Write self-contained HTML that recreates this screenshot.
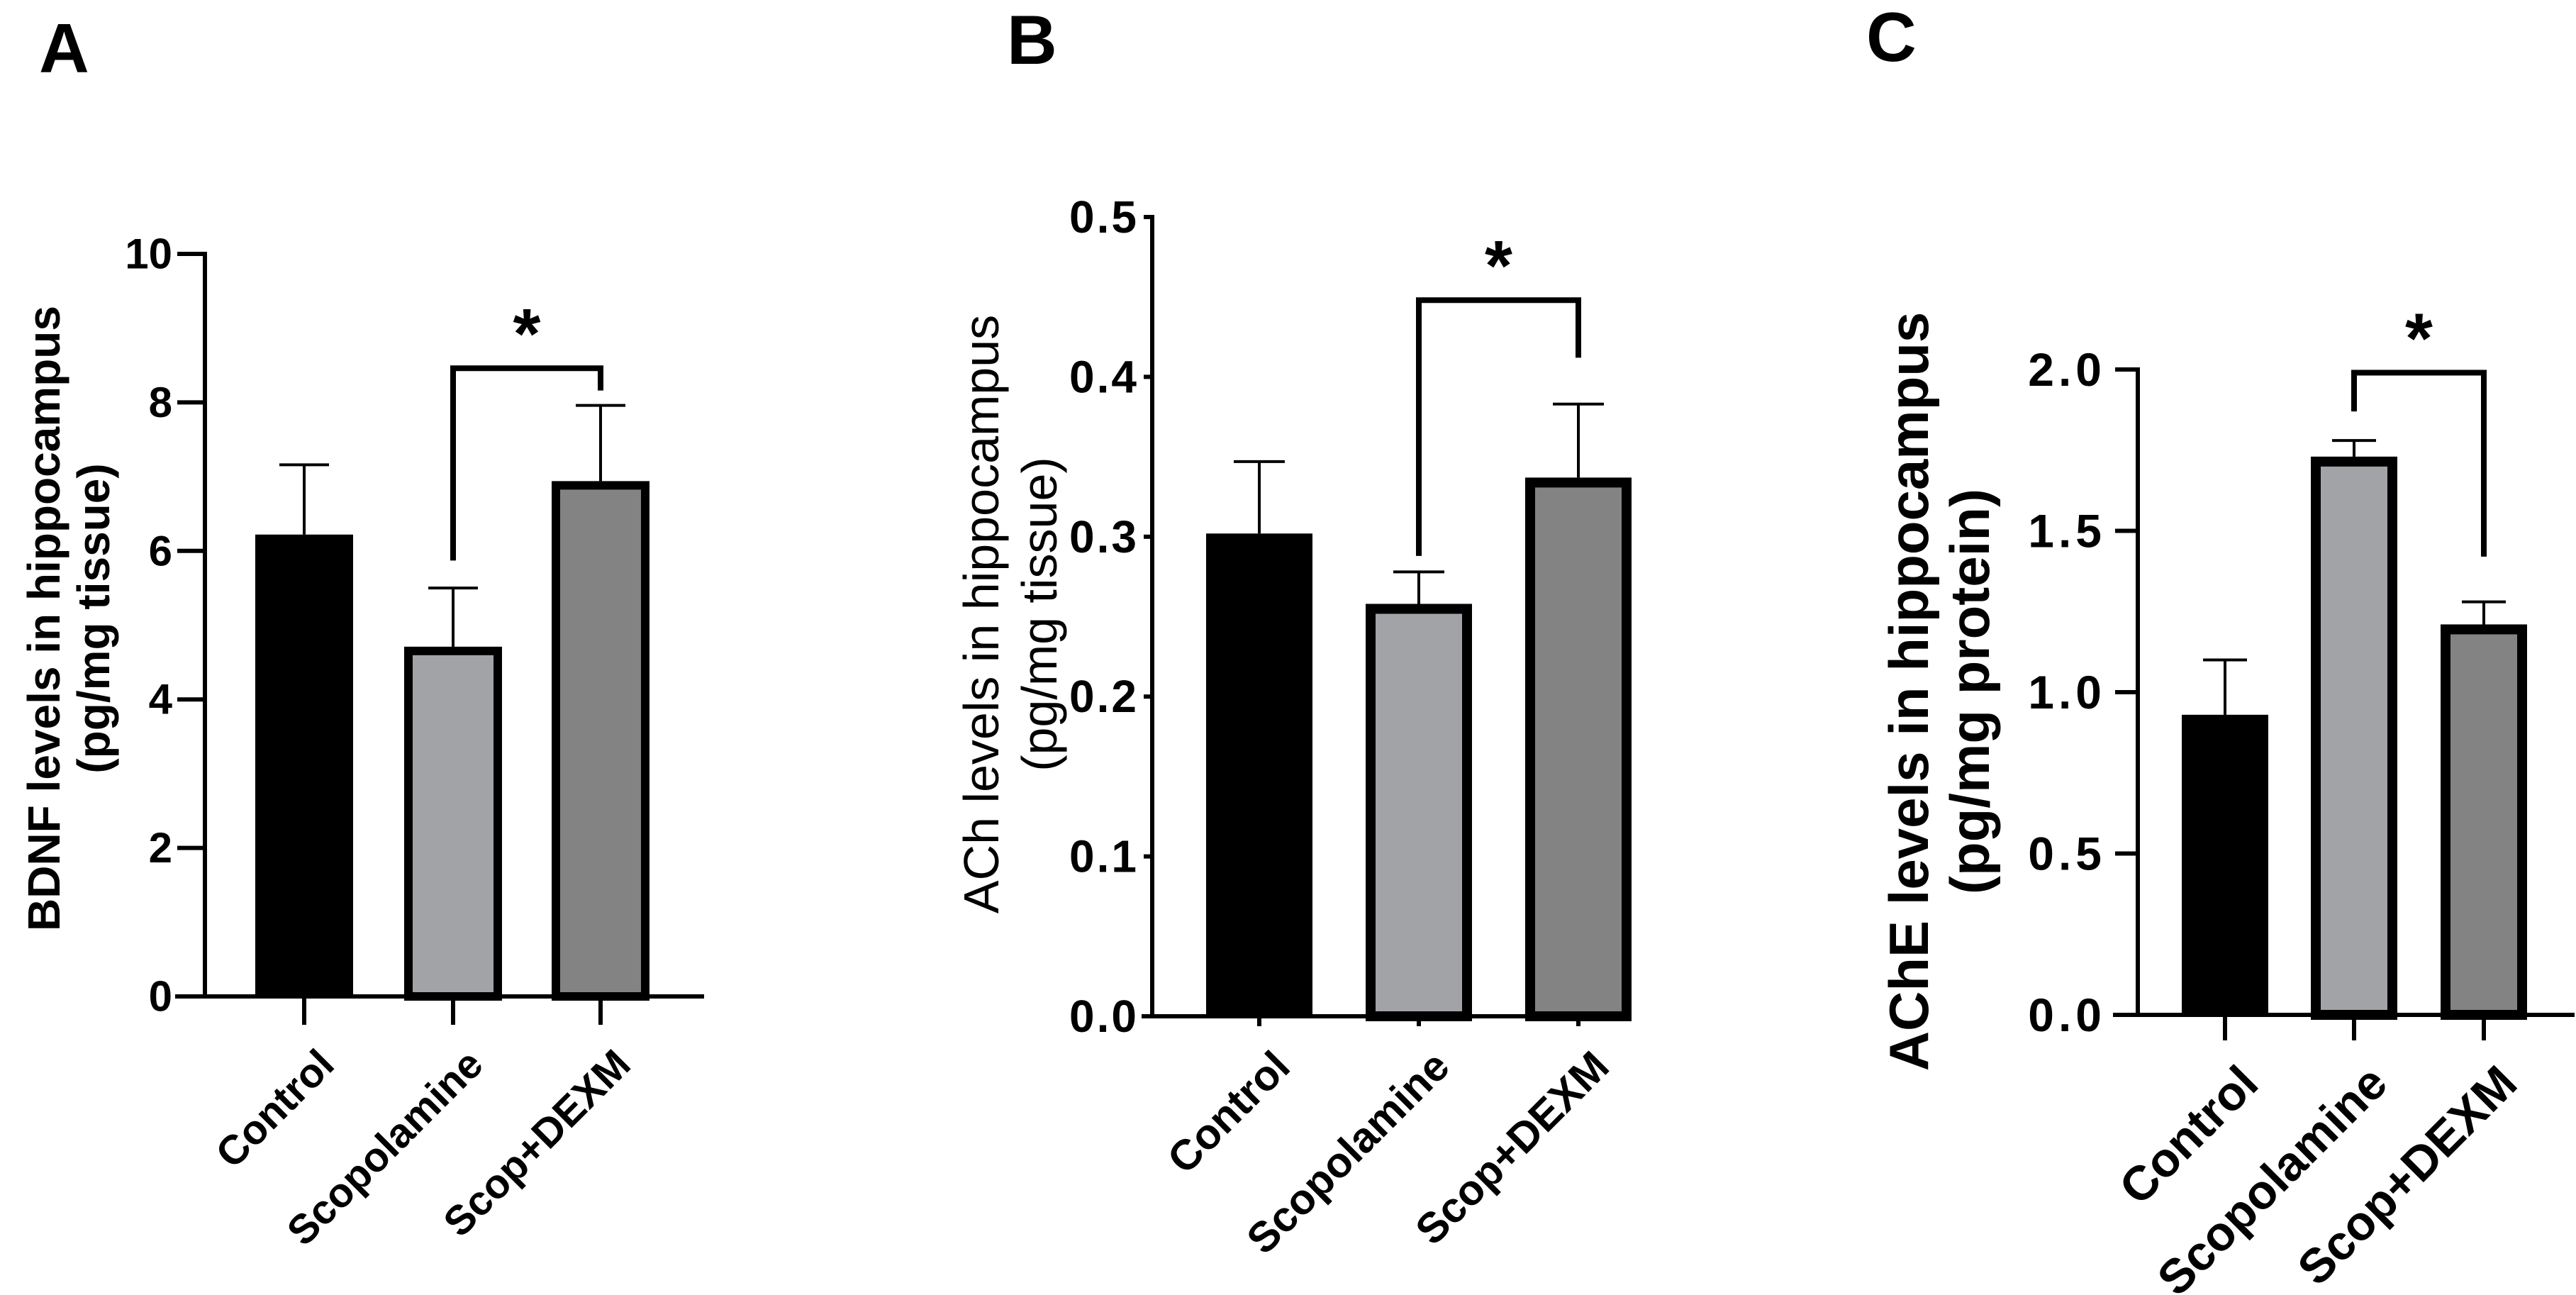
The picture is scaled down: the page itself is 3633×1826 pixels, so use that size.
<!DOCTYPE html>
<html><head><meta charset="utf-8"><style>
html,body{margin:0;padding:0;background:#fff;}
svg{display:block;font-family:"Liberation Sans",Arial,sans-serif;}
</style></head><body>
<svg id="fig" width="3633" height="1826" viewBox="0 0 3633 1826" xmlns="http://www.w3.org/2000/svg">
<rect width="3633" height="1826" fill="#fff"/>
<text x="55" y="102" font-size="98" font-weight="bold">A</text>
<text x="1420" y="90" font-size="98" font-weight="bold">B</text>
<text x="2632" y="86" font-size="98" font-weight="bold">C</text>
</svg>
<script>
const categories = ["Control", "Scopolamine", "Scop+DEXM"];
const barColors = ["#000000", "#a2a3a7", "#838383"];
const bdnfValues = [6.22, 4.71, 6.94];
const bdnfErrors = [0.94, 0.79, 1.02];
const bdnfTicks = ["0", "2", "4", "6", "8", "10"];
const achValues = [0.302, 0.258, 0.337];
const achErrors = [0.045, 0.020, 0.046];
const achTicks = ["0.0", "0.1", "0.2", "0.3", "0.4", "0.5"];
const acheValues = [0.93, 1.73, 1.21];
const acheErrors = [0.17, 0.05, 0.07];
const acheTicks = ["0.0", "0.5", "1.0", "1.5", "2.0"];
const bdnfBracket = [8.46, 5.87, 8.16];
const achBracket = [0.448, 0.288, 0.412];
const acheBracket = [1.99, 1.87, 1.42];

const svg = document.getElementById('fig');
const NS = 'http://www.w3.org/2000/svg';
function mk(tag, attrs, parent) {
  const e = document.createElementNS(NS, tag);
  for (const k in attrs) e.setAttribute(k, attrs[k]);
  (parent || svg).appendChild(e);
  return e;
}

function panel(p) {
  const g = mk('g', {});
  
  
  const yMax = parseFloat(p.ticks[p.ticks.length - 1]);
  const yS = v => p.y0 - (v / yMax) * (p.y0 - p.yTop);
  const xS = i => p.centers[i];
  p.values.forEach((v, i) => {
    const top = yS(v);
    const bw = p.bw;
    if (i === 0) {
      const r = mk('rect', {x: xS(i) - bw / 2, y: top, width: bw, height: p.y0 - top, fill: barColors[i]}, g);
      
      
    } else {
      const sw = p.sw;
      const r = mk('rect', {x: xS(i) - bw / 2 + sw / 2, y: top + sw / 2, width: bw - sw, height: p.y0 - top - sw / 2, fill: barColors[i], stroke: '#000', 'stroke-width': sw}, g);
      
      
    }
    const et = yS(v + p.errors[i]);
    const el = mk('path', {d: `M${xS(i)},${top} V${et} M${xS(i) - p.cap},${et} H${xS(i) + p.cap}`, stroke: '#000', 'stroke-width': 4, fill: 'none'}, g);
    
    
  });
  const ax = mk('path', {d: `M${p.ax},${p.yTop} V${p.y0} M${p.ax - p.tl},${p.y0} H${p.xEnd}`, stroke: '#000', 'stroke-width': 6, fill: 'none', 'stroke-linecap': 'square'}, g);
  
  
  p.ticks.forEach(t => {
    const y = yS(parseFloat(t));
    const tk = mk('line', {x1: p.ax - p.tl, x2: p.ax, y1: y, y2: y, stroke: '#000', 'stroke-width': 6}, g);
    
    
    const tx = mk('text', {x: p.labX, y: y, 'text-anchor': 'end', 'dominant-baseline': 'central', 'font-size': p.tfs, 'font-weight': 'bold', 'letter-spacing': p.tls}, g);
    tx.textContent = t;
    
    
  });
  categories.forEach((c, i) => {
    const tk = mk('line', {x1: xS(i), x2: xS(i), y1: p.y0, y2: p.y0 + p.xtl, stroke: '#000', 'stroke-width': 6}, g);
    
    
    const lx = xS(i) + 16, ly = p.y0 + p.xtl + 30;
    const tx = mk('text', {x: lx, y: ly, 'text-anchor': 'end', 'dominant-baseline': 'hanging', 'font-size': p.xfs, 'font-weight': 'bold', transform: `rotate(-45 ${lx} ${ly})`}, g);
    tx.textContent = c;
    
    
  });
  p.title.forEach((line, k) => {
    const x = p.titleX[k];
    const tx = mk('text', {x: x, y: p.titleY, 'text-anchor': 'middle', 'dominant-baseline': 'central', 'font-size': p.titleFs, 'font-weight': p.titleW, transform: `rotate(-90 ${x} ${p.titleY})`}, g);
    tx.textContent = line;
    
    
  });
  const by = yS(p.bracket[0]);
  const br = mk('path', {d: `M${xS(1)},${yS(p.bracket[1])} V${by} H${xS(2)} V${yS(p.bracket[2])}`, stroke: '#000', 'stroke-width': 8, fill: 'none'}, g);
  
  
  const st = mk('text', {x: (xS(1) + xS(2)) / 2, y: by - 14, 'text-anchor': 'middle', 'font-size': 100, 'font-weight': 'bold'}, g);
  st.textContent = '*';
  
  
}

panel({name: 'panel-a-bdnf', values: bdnfValues, errors: bdnfErrors, ticks: bdnfTicks, bracket: bdnfBracket,
  ax: 289, yTop: 358, y0: 1405, xEnd: 990, centers: [429, 639, 847], bw: 138, cap: 35, tl: 39, xtl: 40, sw: 12,
  labX: 243, tfs: 60, tls: 0, xfs: 58, title: ['BDNF levels in hippocampus', '(pg/mg tissue)'], titleX: [62, 132], titleY: 872, titleFs: 64, titleW: 'bold'});
panel({name: 'panel-b-ach', values: achValues, errors: achErrors, ticks: achTicks, bracket: achBracket,
  ax: 1625, yTop: 306, y0: 1433, xEnd: 2260, centers: [1776, 2001, 2226], bw: 150, cap: 36, tl: 12, xtl: 14, sw: 14,
  labX: 1606, tfs: 64, tls: 3, xfs: 60, title: ['ACh levels in hippocampus', '(pg/mg tissue)'], titleX: [1384, 1466], titleY: 866, titleFs: 70, titleW: 'normal'});
panel({name: 'panel-c-ache', values: acheValues, errors: acheErrors, ticks: acheTicks, bracket: acheBracket,
  ax: 3015, yTop: 521, y0: 1431, xEnd: 3628, centers: [3138, 3320, 3503], bw: 122, cap: 31, tl: 32, xtl: 36, sw: 14,
  labX: 2970, tfs: 66, tls: 6, xfs: 68, title: ['AChE levels in hippocampus', '(pg/mg protein)'], titleX: [2692, 2778], titleY: 975, titleFs: 78, titleW: 'bold'});
</script>
</body></html>
